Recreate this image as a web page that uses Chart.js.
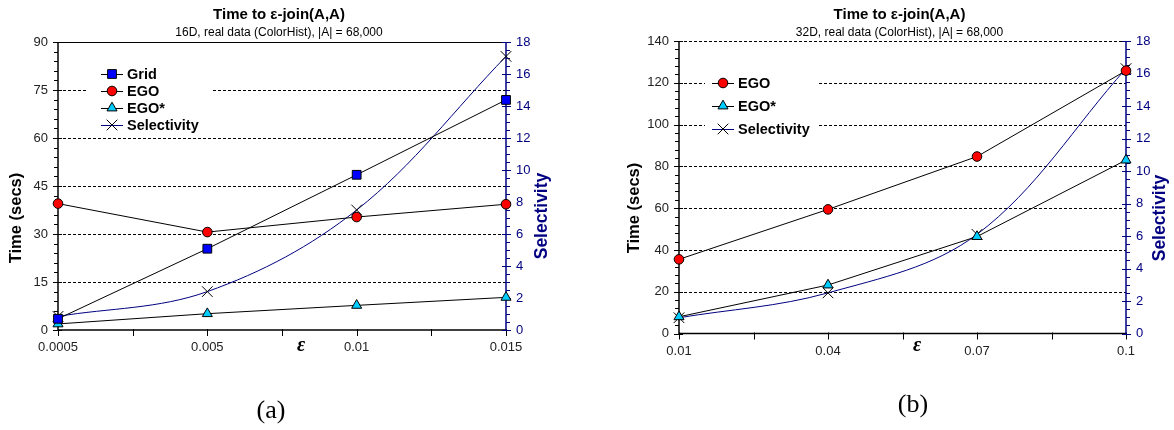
<!DOCTYPE html>
<html><head><meta charset="utf-8">
<script src="https://cdn.jsdelivr.net/npm/chart.js@4.4.1/dist/chart.umd.min.js"></script>
<style>
html,body{margin:0;padding:0;background:#fff;width:1174px;height:430px;overflow:hidden}
.wrap{position:absolute;top:0;width:587px;height:430px}
#w1{left:0}#w2{left:587px}
canvas{display:block}
</style></head><body>
<div class="wrap" id="w1"><canvas id="c1" width="587" height="430"></canvas></div>
<div class="wrap" id="w2"><canvas id="c2" width="587" height="430"></canvas></div>
<script>
// ---------- data: chart (a) ----------
const epsA = ['0.0005', '0.005', '0.01', '0.015'];
const gridA = [3.5, 25.4, 48.5, 71.9];
const egoA = [39.5, 30.6, 35.3, 39.3];
const egoStarA = [1.9, 5.1, 7.7, 10.2];
const selA = [0.85, 2.4, 7.5, 17.1];
const titleA = 'Time to \u03b5-join(A,A)';
const subtitleA = '16D, real data (ColorHist), |A| = 68,000';

// ---------- data: chart (b) ----------
const epsB = ['0.01', '0.04', '0.07', '0.1'];
const egoB = [35.5, 59.4, 84.7, 125.8];
const egoStarB = [8.0, 23.2, 46.4, 83.0];
const selB = [0.97, 2.5, 6.1, 16.3];
const titleB = 'Time to \u03b5-join(A,A)';
const subtitleB = '32D, real data (ColorHist), |A| = 68,000';

// ---------- axis ranges ----------
const timeMaxA = 90, timeStepA = 15, timeMinorA = 3;
const selMaxA = 18, selStepA = 2, selMinorA = 0.5;
const timeMaxB = 140, timeStepB = 20, timeMinorB = 4;
const selMaxB = 18, selStepB = 2, selMinorB = 0.5;

const SANS = '"Liberation Sans", Arial, Helvetica, sans-serif';
const SERIF = '"Liberation Serif", "Times New Roman", serif';
const NAVY = '#000080';

function series(label, data, kind) {
  const base = {label, data, borderWidth: 1, pointBorderWidth: 1, pointBorderColor: '#000',
    clip: false, tension: 0, fill: false, yAxisID: 'y'};
  if (kind === 'grid') Object.assign(base, {borderColor: '#000', pointStyle: 'rect', pointRadius: 6.2, pointBackgroundColor: '#0000FF'});
  if (kind === 'ego') Object.assign(base, {borderColor: '#000', pointStyle: 'circle', pointRadius: 4.8, pointBackgroundColor: '#FF0000'});
  if (kind === 'egostar') Object.assign(base, {borderColor: '#000', pointStyle: 'triangle', pointRadius: 5.8, pointBackgroundColor: '#00CCFF'});
  if (kind === 'sel') Object.assign(base, {borderColor: NAVY, pointStyle: 'crossRot', pointRadius: 7.5, pointBackgroundColor: '#000', yAxisID: 'y2', tension: 0.35});
  return base;
}

function line(ctx, x1, y1, x2, y2) { ctx.beginPath(); ctx.moveTo(x1, y1); ctx.lineTo(x2, y2); ctx.stroke(); }

function makePlugin(cfg) {
  return {
    id: 'paperDeco',
    beforeDatasetsDraw(chart) {
      const ctx = chart.ctx, a = chart.chartArea;
      const xs = chart.scales.x, ys = chart.scales.y, y2 = chart.scales.y2;
      ctx.save();
      // dashed gridlines
      ctx.strokeStyle = '#000'; ctx.lineWidth = 1; ctx.setLineDash([3, 2]);
      for (let v = cfg.tStep; v < cfg.tMax; v += cfg.tStep) {
        const py = Math.round(ys.getPixelForValue(v)) + 0.5;
        line(ctx, a.left, py, a.right, py);
      }
      if (!cfg.topDashed) ctx.setLineDash([]);
      line(ctx, a.left, Math.round(a.top) + 0.5, a.right, Math.round(a.top) + 0.5);
      ctx.setLineDash([]);
      // legend background
      ctx.fillStyle = '#fff';
      ctx.fillRect(cfg.legBox[0], cfg.legBox[1], cfg.legBox[2], cfg.legBox[3]);
      // left axis
      ctx.strokeStyle = '#000'; ctx.lineWidth = 1.5;
      line(ctx, a.left, a.top, a.left, a.bottom + 1);
      ctx.lineWidth = 1;
      for (let v = 0; v <= cfg.tMax + 1e-9; v += cfg.tMinor) {
        const py = Math.round(ys.getPixelForValue(v)) + 0.5;
        const major = Math.abs(v / cfg.tStep - Math.round(v / cfg.tStep)) < 1e-6;
        if (major) line(ctx, a.left - 5, py, a.left + 4, py); else line(ctx, a.left - 4, py, a.left, py);
      }
      // x axis
      ctx.lineWidth = 1.5;
      line(ctx, a.left, a.bottom, a.right, a.bottom);
      ctx.lineWidth = 1;
      const n = xs.getLabels().length;
      for (let i = 0; i <= (n - 1) * 2; i++) {
        const px = Math.round(xs.getPixelForValue(i / 2)) + 0.5;
        line(ctx, px, a.bottom - 1, px, a.bottom + 6);
      }
      // right axis (navy)
      ctx.strokeStyle = NAVY; ctx.lineWidth = 1.5;
      line(ctx, a.right, a.top, a.right, a.bottom + 1);
      ctx.lineWidth = 1;
      for (let v = 0; v <= cfg.sMax + 1e-9; v += cfg.sMinor) {
        const py = Math.round(y2.getPixelForValue(v)) + 0.5;
        const major = Math.abs(v / cfg.sStep - Math.round(v / cfg.sStep)) < 1e-6;
        if (major) line(ctx, a.right - 4, py, a.right + 5, py); else line(ctx, a.right, py, a.right + 4, py);
      }
      ctx.restore();
    },
    afterDraw(chart) {
      const ctx = chart.ctx, a = chart.chartArea;
      ctx.save();
      const cx = (a.left + a.right) / 2 - 3;
      ctx.fillStyle = '#000'; ctx.textAlign = 'center'; ctx.textBaseline = 'alphabetic';
      ctx.font = 'bold 15px ' + SANS;
      ctx.fillText(cfg.title, cx, 19);
      ctx.font = '12px ' + SANS;
      ctx.fillText(cfg.subtitle, cx, 35.5);
      // axis titles
      ctx.textBaseline = 'middle';
      ctx.save();
      ctx.translate(cfg.tTitle[0], cfg.tTitle[1]); ctx.rotate(-Math.PI / 2);
      ctx.font = 'bold 16.5px ' + SANS; ctx.fillStyle = '#000';
      ctx.fillText('Time (secs)', 0, 0);
      ctx.restore();
      ctx.save();
      ctx.translate(cfg.sTitle[0], cfg.sTitle[1]); ctx.rotate(-Math.PI / 2);
      ctx.font = 'bold 17.5px ' + SANS; ctx.fillStyle = NAVY;
      ctx.fillText('Selectivity', 0, 0);
      ctx.restore();
      // epsilon label
      ctx.font = 'italic bold 20px ' + SERIF; ctx.fillStyle = '#000';
      ctx.fillText('\u03b5', cfg.epsPos[0], cfg.epsPos[1]);
      // panel tag
      ctx.textBaseline = 'alphabetic';
      ctx.font = '26px ' + SERIF;
      ctx.fillText(cfg.tag, cfg.tagPos[0], cfg.tagPos[1]);
      // legend
      ctx.textAlign = 'left'; ctx.textBaseline = 'middle';
      ctx.font = 'bold 14.5px ' + SANS;
      chart.data.datasets.forEach((d, i) => {
        const y = cfg.leg[1] + i * cfg.leg[2];
        const x0 = cfg.leg[0];
        ctx.strokeStyle = d.borderColor; ctx.lineWidth = 1;
        line(ctx, x0, y + 0.5, x0 + 22, y + 0.5);
        ctx.fillStyle = d.pointBackgroundColor; ctx.strokeStyle = d.pointBorderColor; ctx.lineWidth = 1;
        Chart.helpers.drawPoint(ctx, {pointStyle: d.pointStyle, radius: d.pointRadius, rotation: 0, borderWidth: 1}, x0 + 11, y);
        ctx.fillStyle = '#000';
        ctx.fillText(d.label, x0 + 26, y + 1);
      });
      ctx.restore();
    }
  };
}

function build(canvasId, cats, datasets, cfg) {
  const tickFont = {family: SANS, size: 13};
  return new Chart(document.getElementById(canvasId), {
    type: 'line',
    data: {labels: cats, datasets},
    options: {
      responsive: false, animation: false, events: [],
      layout: {padding: {top: cfg.top, left: 0, right: 0, bottom: 0}},
      plugins: {legend: {display: false}, tooltip: {enabled: false}, title: {display: false}},
      scales: {
        x: {type: 'category', offset: false,
          grid: {display: false, drawTicks: false}, border: {display: false},
          ticks: {font: tickFont, color: '#222', padding: 10, autoSkip: false, maxRotation: 0},
          afterFit: s => { s.height = cfg.xH; }},
        y: {position: 'left', min: 0, max: cfg.tMax,
          grid: {display: false, drawTicks: false}, border: {display: false},
          ticks: {stepSize: cfg.tStep, font: tickFont, color: '#222', padding: 10},
          afterFit: s => { s.width = cfg.yW; }},
        y2: {position: 'right', min: 0, max: cfg.sMax,
          grid: {display: false, drawTicks: false}, border: {display: false},
          ticks: {stepSize: cfg.sStep, font: tickFont, color: NAVY, padding: 10},
          afterFit: s => { s.width = cfg.y2W; }}
      }
    },
    plugins: [makePlugin(cfg)]
  });
}

build('c1', epsA, [
  series('Grid', gridA, 'grid'),
  series('EGO', egoA, 'ego'),
  series('EGO*', egoStarA, 'egostar'),
  series('Selectivity', selA, 'sel')
], {
  title: titleA, subtitle: subtitleA, tag: '(a)', tagPos: [271, 418],
  tMax: timeMaxA, tStep: timeStepA, tMinor: timeMinorA,
  sMax: selMaxA, sStep: selStepA, sMinor: selMinorA,
  top: 42, xH: 100, yW: 58, y2W: 81, topDashed: false,
  legBox: [88, 64, 124, 70], leg: [101, 74, 17],
  tTitle: [16, 218], sTitle: [542, 216], epsPos: [301, 346]
});

build('c2', epsB, [
  series('EGO', egoB, 'ego'),
  series('EGO*', egoStarB, 'egostar'),
  series('Selectivity', selB, 'sel')
], {
  title: titleB, subtitle: subtitleB, tag: '(b)', tagPos: [326, 412],
  tMax: timeMaxB, tStep: timeStepB, tMinor: timeMinorB,
  sMax: selMaxB, sStep: selStepB, sMinor: selMinorB,
  top: 41, xH: 96.5, yW: 92, y2W: 48, topDashed: true,
  legBox: [118, 68, 112, 72], leg: [125, 83, 23],
  tTitle: [47, 208], sTitle: [573, 218], epsPos: [330, 346]
});
</script>
</body></html>
